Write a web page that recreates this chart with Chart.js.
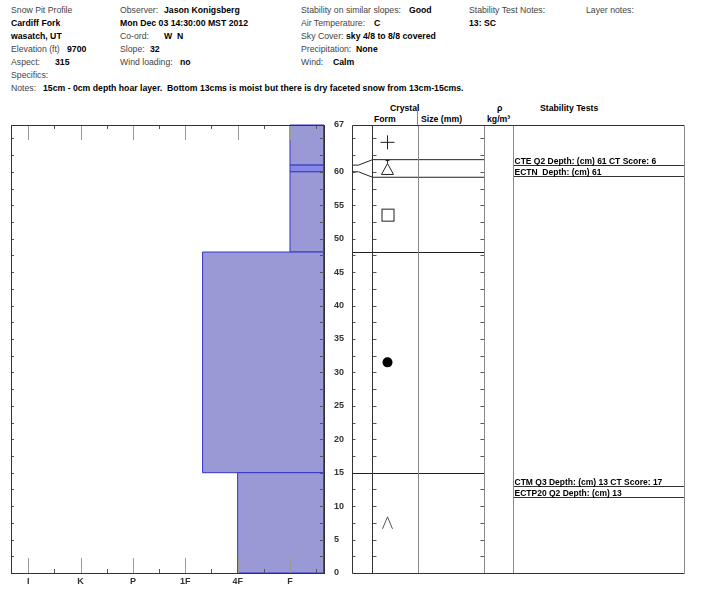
<!DOCTYPE html>
<html>
<head>
<meta charset="utf-8">
<script src="https://cdn.jsdelivr.net/npm/chart.js@4.4.0/dist/chart.umd.min.js"></script>
<style>
body { margin: 0; background: #fff; width: 722px; height: 600px; overflow: hidden; position: relative;
       font-family: "Liberation Sans", Arial, sans-serif; }
.t { position: absolute; font-size: 8.7px; line-height: 10px; color: #444; white-space: pre; }
.b { font-weight: bold; color: #000; }
canvas { position: absolute; }
</style>
</head>
<body>
<div id="hdr"></div>
<canvas id="profile" width="360" height="495" style="left:0;top:100px"></canvas>
<canvas id="table" width="382" height="495" style="left:340px;top:100px"></canvas>
<div style="position:absolute;left:417px;top:104px;width:1px;height:21px;background:#888"></div>
<script>
// Snow pit data
const hardnessLabels = ['I', 'K', 'P', '1F', '4F', 'F'];
const layerBottom = [0, 15, 48, 60, 61];
const layerTop = [15, 48, 60, 61, 67];
const layerHardness = [4, 3.33, 5, 5, 5];   // index into hardnessLabels, fractional = +/- grade
const layerForm = ['hoar', 'dot', 'square', 'triangle', 'cross'];
const depthTicks = [0, 5, 10, 15, 20, 25, 30, 35, 40, 45, 50, 55, 60, 67];
const testLabels = ['CTE Q2 Depth: (cm) 61 CT Score: 6', 'ECTN  Depth: (cm) 61',
                    'CTM Q3 Depth: (cm) 13 CT Score: 17', 'ECTP20 Q2 Depth: (cm) 13'];
const testDepths = [61, 61, 13, 13];

const HMIN = -0.33, HMAX = 5.65, DMAX = 67;

// Header text: [text, x, y, bold]
const header = [
    ['Snow Pit Profile', 11, 5, false],
    ['Cardiff Fork', 11, 18, true],
    ['wasatch, UT', 11, 31, true],
    ['Elevation (ft)', 11, 44, false], ['9700', 67, 44, true],
    ['Aspect:', 11, 57, false], ['315', 55, 57, true],
    ['Specifics:', 11, 70, false],
    ['Notes:', 11, 83, false],
    ['15cm - 0cm depth hoar layer.  Bottom 13cms is moist but there is dry faceted snow from 13cm-15cms.', 43, 83, true],
    ['Observer:', 120, 5, false], ['Jason Konigsberg', 164, 5, true],
    ['Mon Dec 03 14:30:00 MST 2012', 120, 18, true],
    ['Co-ord:', 120, 31, false], ['W  N', 164, 31, true],
    ['Slope:', 120, 44, false], ['32', 150, 44, true],
    ['Wind loading:', 120, 57, false], ['no', 180, 57, true],
    ['Stability on similar slopes:', 301, 5, false], ['Good', 409, 5, true],
    ['Air Temperature:', 301, 18, false], ['C', 374, 18, true],
    ['Sky Cover:', 301, 31, false], ['sky 4/8 to 8/8 covered', 346, 31, true],
    ['Precipitation:', 301, 44, false], ['None', 356, 44, true],
    ['Wind:', 301, 57, false], ['Calm', 333, 57, true],
    ['Stability Test Notes:', 469, 5, false], ['13: SC', 469, 18, true],
    ['Layer notes:', 586, 5, false],
    ['Crystal', 390, 103, true],
    ['Form', 374, 114, true],
    ['Size (mm)', 421, 114, true],
    ['\u03c1', 497, 103, true],
    ['kg/m\u00b3', 487, 114, true],
    ['Stability Tests', 540, 103, true]
];

const hdr = document.getElementById('hdr');
header.forEach(([text, x, y, bold]) => {
    const d = document.createElement('div');
    d.className = bold ? 't b' : 't';
    d.style.left = x + 'px';
    d.style.top = y + 'px';
    d.textContent = text;
    hdr.appendChild(d);
});

/**
 * Hardness profile chart
 */
const layerColors = layerBottom.map((b, i) => (layerTop[i] - b) <= 1 ? 'rgba(136,136,232,1)' : 'rgba(153,153,214,1)');

const profileDatasets = layerBottom.map((b, i) => ({
    data: [
        { x: layerHardness[i], y: b },
        { x: layerHardness[i], y: layerTop[i] },
        { x: HMAX, y: layerTop[i] },
        { x: HMAX, y: b },
        { x: layerHardness[i], y: b }
    ],
    borderColor: '#3535c8',
    borderWidth: 1,
    backgroundColor: layerColors[i],
    fill: 'shape',
    pointRadius: 0,
    tension: 0
}));

const profileFrame = {
    id: 'profileFrame',
    afterDraw(chart) {
        const { ctx, chartArea: a, scales: { x, y } } = chart;
        ctx.save();
        ctx.lineWidth = 1;
        // depth ticks every 2.5 cm on both sides
        ctx.strokeStyle = '#555';
        for (let v = 2.5; v < DMAX; v += 2.5) {
            const py = Math.round(y.getPixelForValue(v)) + 0.5;
            ctx.beginPath();
            ctx.moveTo(a.left, py); ctx.lineTo(a.left + 3, py);
            ctx.moveTo(a.right, py); ctx.lineTo(a.right - 4, py);
            ctx.stroke();
        }
        // hardness ticks top and bottom
        for (let v = 0; v <= 5.5; v += 0.5) {
            const px = Math.round(x.getPixelForValue(v)) + 0.5;
            const major = Number.isInteger(v);
            const len = major ? 15 : 4;
            ctx.strokeStyle = major ? '#9a9a9a' : '#555';
            ctx.beginPath();
            ctx.moveTo(px, a.top); ctx.lineTo(px, a.top + len);
            ctx.moveTo(px, a.bottom); ctx.lineTo(px, a.bottom - len);
            ctx.stroke();
        }
        // frame
        ctx.strokeStyle = '#333';
        ctx.strokeRect(Math.round(a.left) + 0.5, Math.round(a.top) + 0.5,
                       Math.round(a.right - a.left), Math.round(a.bottom - a.top));
        ctx.restore();
    }
};

new Chart(document.getElementById('profile'), {
    type: 'line',
    data: { datasets: profileDatasets },
    options: {
        responsive: false,
        animation: false,
        clip: false,
        layout: { padding: { left: 11, top: 25, right: 0, bottom: 0 } },
        plugins: { legend: { display: false }, tooltip: { enabled: false } },
        scales: {
            x: {
                type: 'linear',
                min: HMIN,
                max: HMAX,
                grid: { display: false, drawTicks: false },
                border: { display: false },
                afterBuildTicks: s => { s.ticks = hardnessLabels.map((l, i) => ({ value: i })); },
                afterFit: s => { s.height = 22; },
                ticks: {
                    padding: 3,
                    color: '#333',
                    font: { family: 'Liberation Sans', size: 9, weight: 'bold' },
                    callback: v => hardnessLabels[v]
                }
            },
            y: {
                type: 'linear',
                position: 'right',
                min: 0,
                max: DMAX,
                grid: { display: false, drawTicks: false },
                border: { display: false },
                afterBuildTicks: s => { s.ticks = depthTicks.map(v => ({ value: v })); },
                afterFit: s => { s.width = 36; },
                ticks: {
                    padding: 10,
                    color: '#333',
                    font: { family: 'Liberation Sans', size: 9, weight: 'bold' }
                }
            }
        }
    },
    plugins: [profileFrame]
});

/**
 * Crystal / stability table chart
 */
const FORM_X = 20, SIZE_X = 66, RHO_X = 132, TEST_X = 161, TABLE_W = 332;

function drawSymbol(ctx, form, cx, cy) {
    ctx.save();
    ctx.lineWidth = 1;
    ctx.strokeStyle = '#222';
    ctx.fillStyle = '#000';
    ctx.beginPath();
    if (form === 'cross') {
        ctx.moveTo(cx - 7, cy); ctx.lineTo(cx + 7, cy);
        ctx.moveTo(cx, cy - 7); ctx.lineTo(cx, cy + 7);
        ctx.stroke();
    } else if (form === 'square') {
        ctx.strokeRect(cx - 6 + 0.5, cy - 6 + 0.5, 12, 12);
    } else if (form === 'dot') {
        ctx.arc(cx, cy, 5, 0, Math.PI * 2);
        ctx.fill();
    } else if (form === 'triangle') {
        ctx.moveTo(cx, cy - 5); ctx.lineTo(cx + 6, cy + 6); ctx.lineTo(cx - 6, cy + 6); ctx.closePath();
        ctx.moveTo(cx, cy - 5); ctx.lineTo(cx, cy - 8);
        ctx.moveTo(cx - 2, cy - 8); ctx.lineTo(cx + 2, cy - 8);
        ctx.stroke();
    } else if (form === 'hoar') {
        ctx.strokeStyle = '#555';
        ctx.moveTo(cx - 5, cy + 6); ctx.lineTo(cx, cy - 6); ctx.lineTo(cx + 5, cy + 6);
        ctx.stroke();
    }
    ctx.restore();
}

const tableDraw = {
    id: 'tableDraw',
    afterDraw(chart) {
        const { ctx, chartArea: a, scales: { x, y } } = chart;
        const px = v => Math.round(x.getPixelForValue(v)) + 0.5;
        const py = v => Math.round(y.getPixelForValue(v)) + 0.5;
        ctx.save();
        ctx.lineWidth = 1;

        // ticks on depth axis and column edges
        ctx.strokeStyle = '#555';
        for (let v = 2.5; v < DMAX; v += 2.5) {
            const yy = py(v);
            ctx.beginPath();
            ctx.moveTo(px(0), yy); ctx.lineTo(px(0) + 3, yy);
            ctx.moveTo(px(FORM_X), yy); ctx.lineTo(px(FORM_X) + 4, yy);
            ctx.moveTo(px(RHO_X), yy); ctx.lineTo(px(RHO_X) - 4, yy);
            ctx.stroke();
        }

        // layer boundaries, thin layers are widened in the crystal columns
        const minH = 17.6;
        const disp = layerBottom.map((b, i) => {
            const yb = y.getPixelForValue(b), yt = y.getPixelForValue(layerTop[i]);
            if (yb - yt >= minH) return { yb, yt, thin: false };
            const c = (yb + yt) / 2;
            return { yb: c + minH / 2, yt: c - minH / 2, thin: true, rb: yb, rt: yt };
        });
        disp.forEach((d, i) => {
            if (d.thin) {
                if (disp[i - 1]) disp[i - 1].yt = d.yb;
                if (disp[i + 1]) disp[i + 1].yb = d.yt;
            }
        });
        ctx.strokeStyle = '#222';
        disp.forEach((d, i) => {
            if (d.thin) {
                [[d.rt, d.yt], [d.rb, d.yb]].forEach(([r, e]) => {
                    ctx.beginPath();
                    ctx.moveTo(px(0), r); ctx.lineTo(px(6), r);
                    ctx.lineTo(px(FORM_X), e);
                    ctx.lineTo(px(RHO_X), e);
                    ctx.stroke();
                });
            } else if (layerBottom[i] > 0 && !(disp[i - 1] && disp[i - 1].thin)) {
                const yy = Math.round(d.yb) + 0.5;
                ctx.beginPath();
                ctx.moveTo(px(0), yy); ctx.lineTo(px(RHO_X), yy);
                ctx.stroke();
            }
        });

        // crystal form symbols
        disp.forEach((d, i) => {
            drawSymbol(ctx, layerForm[i], px(35), (d.yb + d.yt) / 2);
        });

        // stability tests
        ctx.font = 'bold 8.5px "Liberation Sans", Arial';
        ctx.fillStyle = '#000';
        ctx.textBaseline = 'alphabetic';
        const seen = {};
        testLabels.forEach((label, i) => {
            const dep = testDepths[i];
            const base = py(dep);
            const n = seen[dep] || 0;
            seen[dep] = n + 1;
            ctx.strokeStyle = '#333';
            const yy = base + 11 * n;
            ctx.beginPath();
            ctx.moveTo(px(TEST_X), yy); ctx.lineTo(px(TABLE_W), yy);
            ctx.stroke();
            ctx.fillText(label, px(TEST_X) + 1, yy - 2);
        });

        // column lines
        ctx.strokeStyle = '#8a8a8a';
        [SIZE_X, RHO_X, TEST_X].forEach(c => {
            ctx.beginPath();
            ctx.moveTo(px(c), a.top); ctx.lineTo(px(c), a.bottom);
            ctx.stroke();
        });
        ctx.strokeStyle = '#333';
        ctx.beginPath();
        ctx.moveTo(px(FORM_X), a.top); ctx.lineTo(px(FORM_X), a.bottom);
        ctx.stroke();
        // frame
        ctx.beginPath();
        ctx.moveTo(px(0), py(0)); ctx.lineTo(px(0), py(DMAX)); ctx.lineTo(px(TABLE_W), py(DMAX));
        ctx.moveTo(px(0), py(0)); ctx.lineTo(px(TABLE_W), py(0));
        ctx.stroke();
        ctx.strokeStyle = '#8a8a8a';
        ctx.beginPath();
        ctx.moveTo(px(TABLE_W), py(DMAX)); ctx.lineTo(px(TABLE_W), py(0));
        ctx.stroke();
        ctx.restore();
    }
};

new Chart(document.getElementById('table'), {
    type: 'scatter',
    data: { datasets: [] },
    options: {
        responsive: false,
        animation: false,
        layout: { padding: { left: 12, top: 25, right: 38, bottom: 22 } },
        plugins: { legend: { display: false }, tooltip: { enabled: false } },
        scales: {
            x: { type: 'linear', min: 0, max: TABLE_W, display: false },
            y: { type: 'linear', min: 0, max: DMAX, display: false }
        }
    },
    plugins: [tableDraw]
});
</script>
</body>
</html>
